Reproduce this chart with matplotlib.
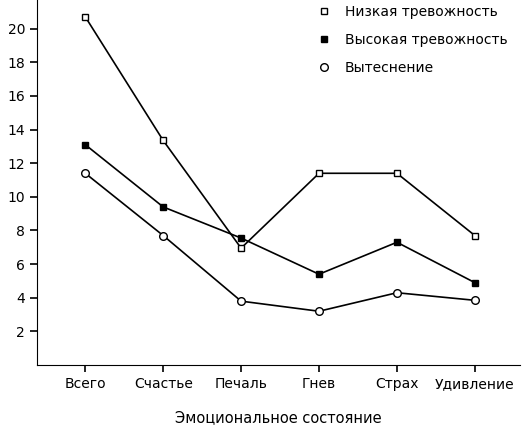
import matplotlib
matplotlib.use("Agg")
import matplotlib.pyplot as plt
from matplotlib.lines import Line2D

categories = ["Всего", "Счастье", "Печаль", "Гнев", "Страх", "Удивление"]
low_anx = [20.7, 13.35, 6.95, 11.4, 11.4, 7.7]
high_anx = [13.1, 9.4, 7.55, 5.4, 7.3, 4.9]
repression = [11.4, 7.7, 3.8, 3.2, 4.3, 3.85]
yticks = [2, 4, 6, 8, 10, 12, 14, 16, 18, 20]

fig = plt.figure(figsize=(5.32, 4.29), dpi=100)
ax = fig.add_axes([0.0695, 0.149, 0.908, 0.851])
x = range(len(categories))
styles = [
    (low_anx, "s", 5, "white", "Низкая тревожность"),
    (high_anx, "s", 5, "black", "Высокая тревожность"),
    (repression, "o", 5.5, "white", "Вытеснение"),
]
handles = []
for vals, m, ms, fc, lab in styles:
    ax.plot(x, vals, color="black", lw=1.2, marker=m, ms=ms, mfc=fc, mec="black")
    handles.append(Line2D([], [], ls="none", marker=m, ms=ms, mfc=fc, mec="black", label=lab))
ax.set_xlim(-0.62, 5.58)
ax.set_ylim(0, 21.7)
ax.set_xticks(list(x))
ax.set_xticklabels(categories, fontsize=10)
ax.set_yticks(yticks)
ax.set_yticklabels([str(v) for v in yticks], fontsize=10)
ax.spines["top"].set_visible(False)
ax.spines["right"].set_visible(False)
ax.tick_params(direction="out", length=5, width=1.2)
ax.set_xlabel("Эмоциональное состояние", fontsize=10.5, labelpad=14)
ax.legend(handles=handles, loc="upper right", frameon=False, fontsize=10, handlelength=1.0,
          handletextpad=1.0, labelspacing=1.0, bbox_to_anchor=(1.0, 1.02))
fig.savefig("out.png", dpi=100)
